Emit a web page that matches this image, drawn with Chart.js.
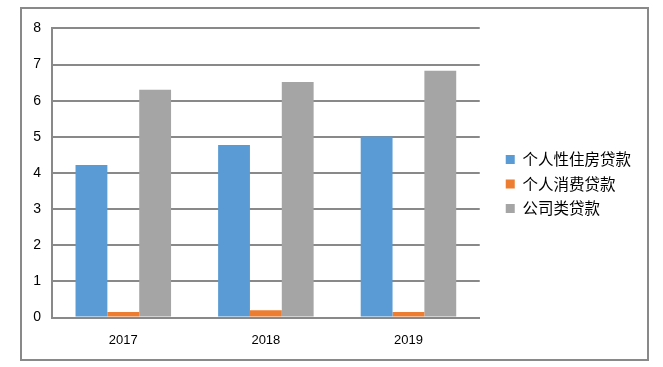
<!DOCTYPE html>
<html>
<head>
<meta charset="utf-8">
<script src="https://cdn.jsdelivr.net/npm/chart.js@4/dist/chart.umd.min.js"></script>
<style>
  html, body { margin: 0; padding: 0; background: #fff; }
  #frame {
    position: absolute; left: 20px; top: 7px;
    width: 629px; height: 354px;
    box-sizing: border-box; border: 2px solid #898989;
  }
  #chart { display: block; }
</style>
</head>
<body>
<div id="frame"><canvas id="chart" width="625" height="350"></canvas></div>
<script>
// ── Données ──────────────────────────────────────────────
const years      = ["2017", "2018", "2019"];
const housing    = [4.22, 4.77, 5.01];   // 个人性住房贷款
const consumer   = [0.15, 0.20, 0.15];   // 个人消费贷款
const corporate  = [6.30, 6.52, 6.83];   // 公司类贷款
const yTicks     = [0, 1, 2, 3, 4, 5, 6, 7, 8];

const GRID = "#898989";
const FONT = "'Liberation Sans', 'Noto Sans CJK SC', sans-serif";

// axe vide servant seulement à réserver de l'espace
const spacer = (position, size) => ({
  type: "category", position, display: true,
  grid: { display: false }, border: { display: false },
  ticks: { display: false },
  afterFit: (s) => {
    if (position === "top") s.height = size; else s.width = size;
  },
});

new Chart(document.getElementById("chart"), {
  type: "bar",
  data: {
    labels: years,
    datasets: [
      { label: "个人性住房贷款", data: housing,   backgroundColor: "#5B9BD5" },
      { label: "个人消费贷款",   data: consumer,  backgroundColor: "#ED7D31" },
      { label: "公司类贷款",     data: corporate, backgroundColor: "#A5A5A5" },
    ],
  },
  options: {
    responsive: false,
    animation: false,
    layout: { padding: { top: 0, bottom: 0, left: 0, right: 6 } },
    datasets: { bar: { categoryPercentage: 0.67, barPercentage: 1.0 } },
    plugins: {
      tooltip: { enabled: false },
      legend: {
        position: "right",
        align: "center",
        maxWidth: 220,
        labels: {
          boxWidth: 9, boxHeight: 9, padding: 9,
          color: "#000",
          font: { family: "'Noto Sans CJK SC', sans-serif", size: 15.5 },
        },
      },
    },
    scales: {
      x: {
        grid: { display: false },
        border: { color: GRID, width: 2 },
        ticks: { color: "#000", padding: 7, font: { family: FONT, size: 13 } },
        afterFit: (s) => { s.height = 41.5; },
      },
      y: {
        min: 0, max: 8,
        afterBuildTicks: (s) => { s.ticks = yTicks.map((v) => ({ value: v })); },
        grid: { color: GRID, lineWidth: 2, drawTicks: false },
        border: { color: GRID, width: 2 },
        ticks: { color: "#000", padding: 11, font: { family: FONT, size: 14 } },
        afterFit: (s) => { s.width = 30; },
      },
      padTop: spacer("top", 17),
      gap: spacer("right", 17),
    },
  },
});
</script>
</body>
</html>
